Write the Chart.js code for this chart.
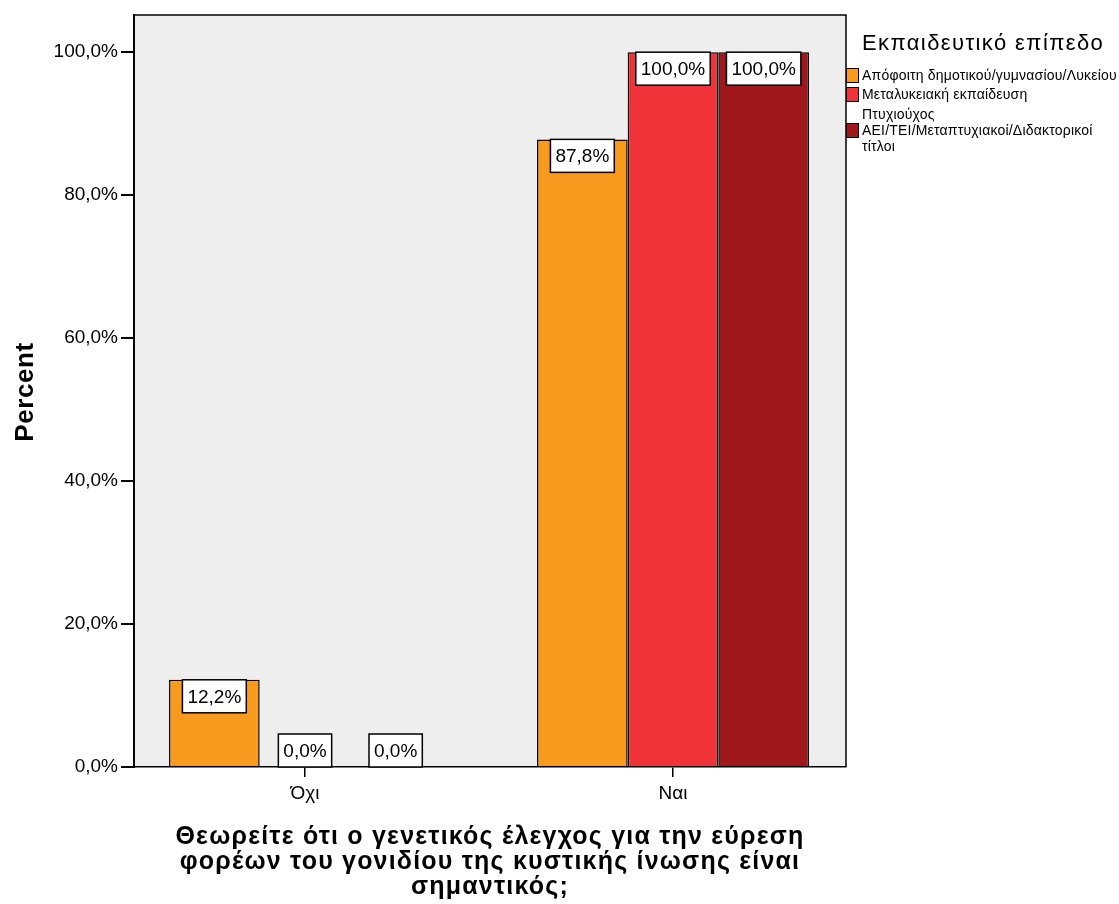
<!DOCTYPE html>
<html>
<head>
<meta charset="utf-8">
<script src="https://cdn.jsdelivr.net/npm/chart.js@4/dist/chart.umd.min.js"></script>
<style>
  html, body { margin: 0; padding: 0; background: #fff; }
  canvas { display: block; }
</style>
</head>
<body>
<canvas id="c" width="1119" height="904"></canvas>
<script>
// ---- data ----
const categories = ['Όχι', 'Ναι'];
const seriesNames = [
  'Απόφοιτη δημοτικού/γυμνασίου/Λυκείου',
  'Μεταλυκειακή εκπαίδευση',
  'Πτυχιούχος\nΑΕΙ/ΤΕΙ/Μεταπτυχιακοί/Διδακτορικοί\nτίτλοι'
];
const seriesValues = [
  [12.2, 87.8],
  [0.0, 100.0],
  [0.0, 100.0]
];
const seriesColors = ['#F89A1E', '#EF3339', '#A0171C'];
const yTickValues = [0, 20, 40, 60, 80, 100];
const legendTitle = 'Εκπαιδευτικό επίπεδο';
const yTitle = 'Percent';
const xTitleLines = [
  'Θεωρείτε ότι ο γενετικός έλεγχος για την εύρεση',
  'φορέων του γονιδίου της κυστικής ίνωσης είναι',
  'σημαντικός;'
];

// ---- helpers ----
const FONT = 'Arial, "Liberation Sans", sans-serif';
const pct = v => v.toFixed(1).replace('.', ',') + '%';

// plot background and frame
const plotBackground = {
  id: 'plotBackground',
  beforeDraw(chart) {
    const { ctx, chartArea: a } = chart;
    ctx.save();
    ctx.fillStyle = '#fff';
    ctx.fillRect(0, 0, chart.width, chart.height);
    ctx.fillStyle = '#EEEEEE';
    ctx.fillRect(a.left, a.top, a.right - a.left, a.bottom - a.top);
    ctx.restore();
  },
  afterDraw(chart) {
    const { ctx, chartArea: a } = chart;
    ctx.save();
    ctx.strokeStyle = '#000';
    ctx.lineWidth = 1.5;
    ctx.beginPath();
    ctx.moveTo(a.left, a.top);
    ctx.lineTo(a.right, a.top);
    ctx.lineTo(a.right, a.bottom);
    ctx.stroke();
    ctx.restore();
  }
};

// boxed value labels on each bar
const valueLabels = {
  id: 'valueLabels',
  afterDatasetsDraw(chart) {
    const { ctx } = chart;
    ctx.save();
    ctx.font = '19px ' + FONT;
    ctx.textAlign = 'center';
    ctx.textBaseline = 'middle';
    chart.data.datasets.forEach((ds, di) => {
      const meta = chart.getDatasetMeta(di);
      meta.data.forEach((el, i) => {
        const p = el.getProps(['x', 'y', 'base'], true);
        const text = pct(seriesValues[di][i]);
        const w = ctx.measureText(text).width + 10;
        const h = 33;
        const top = Math.min(p.y, p.base - h);
        const left = p.x - w / 2;
        ctx.fillStyle = '#fff';
        ctx.fillRect(left, top, w, h);
        ctx.strokeStyle = '#000';
        ctx.lineWidth = 1.5;
        ctx.strokeRect(left, top, w, h);
        ctx.fillStyle = '#000';
        ctx.fillText(text, p.x, top + h / 2 + 1);
      });
    });
    ctx.restore();
  }
};

// axis titles and legend
const titlesAndLegend = {
  id: 'titlesAndLegend',
  afterDraw(chart) {
    const { ctx, chartArea: a } = chart;
    ctx.save();
    ctx.fillStyle = '#000';

    // y title
    ctx.save();
    ctx.translate(33, 392);
    ctx.rotate(-Math.PI / 2);
    ctx.font = 'bold 26px ' + FONT;
    ctx.letterSpacing = '0.6px';
    ctx.textAlign = 'center';
    ctx.textBaseline = 'alphabetic';
    ctx.fillText(yTitle, 0, 0);
    ctx.restore();

    // x title
    ctx.save();
    ctx.font = 'bold 25px ' + FONT;
    ctx.letterSpacing = '1.2px';
    ctx.textAlign = 'center';
    ctx.textBaseline = 'alphabetic';
    const cx = (a.left + a.right) / 2;
    xTitleLines.forEach((line, i) => ctx.fillText(line, cx, 844 + i * 25));
    ctx.restore();

    // legend
    const lx = a.right;
    ctx.save();
    ctx.textAlign = 'left';
    ctx.font = '22px ' + FONT;
    ctx.letterSpacing = '1.4px';
    ctx.fillText(legendTitle, 862, 50);
    ctx.font = '14px ' + FONT;
    ctx.letterSpacing = '0.2px';
    let y = 80;
    seriesNames.forEach((name, i) => {
      const lines = name.split('\n');
      const lineH = 16;
      const blockTop = y;
      lines.forEach((ln, k) => ctx.fillText(ln, 862, blockTop + k * lineH));
      const mid = blockTop + ((lines.length - 1) * lineH) / 2 - 5;
      ctx.fillStyle = seriesColors[i];
      ctx.fillRect(lx, mid - 7, 12, 14);
      ctx.strokeStyle = '#000';
      ctx.lineWidth = 1;
      ctx.strokeRect(lx + 0.5, mid - 6.5, 12, 14);
      ctx.fillStyle = '#000';
      y = blockTop + lines.length * lineH + (i === 0 ? 3 : 4);
    });
    ctx.restore();
    ctx.restore();
  }
};

const datasets = seriesNames.map((name, s) => ({
  label: name,
  data: seriesValues[s].map((v, i) => ({ x: i, y: v })),
  backgroundColor: seriesColors[s],
  borderColor: '#000',
  borderWidth: 1.5,
  categoryPercentage: 0.739,
  barPercentage: 1.0
}));

new Chart(document.getElementById('c'), {
  type: 'bar',
  data: { datasets },
  plugins: [plotBackground, valueLabels, titlesAndLegend],
  options: {
    responsive: false,
    devicePixelRatio: 1,
    animation: false,
    layout: { padding: { left: 0, top: 15, right: 273, bottom: 0 } },
    plugins: { legend: { display: false }, tooltip: { enabled: false } },
    scales: {
      x: {
        type: 'linear',
        offset: false,
        min: -0.4647,
        max: 1.4701,
        afterBuildTicks(scale) {
          scale.ticks = categories.map((c, i) => ({ value: i }));
        },
        afterFit(scale) { scale.height = 137; },
        grid: {
          offset: false,
          drawOnChartArea: false,
          drawTicks: true,
          tickLength: 10,
          color: '#000',
          lineWidth: 1.5
        },
        border: { display: true, color: '#000', width: 1.5 },
        ticks: {
          padding: 5,
          color: '#000',
          font: { family: FONT, size: 19 },
          maxRotation: 0,
          callback: v => categories[v] ?? ''
        }
      },
      y: {
        min: 0,
        max: 105.2,
        afterBuildTicks(scale) {
          scale.ticks = yTickValues.map(v => ({ value: v }));
        },
        afterFit(scale) { scale.width = 134; },
        grid: {
          drawOnChartArea: false,
          drawTicks: true,
          tickLength: 13,
          color: '#000',
          lineWidth: 2
        },
        border: { display: true, color: '#000', width: 2 },
        ticks: {
          padding: 3,
          color: '#000',
          font: { family: FONT, size: 19 },
          callback: v => pct(v)
        }
      }
    }
  }
});
</script>
</body>
</html>
